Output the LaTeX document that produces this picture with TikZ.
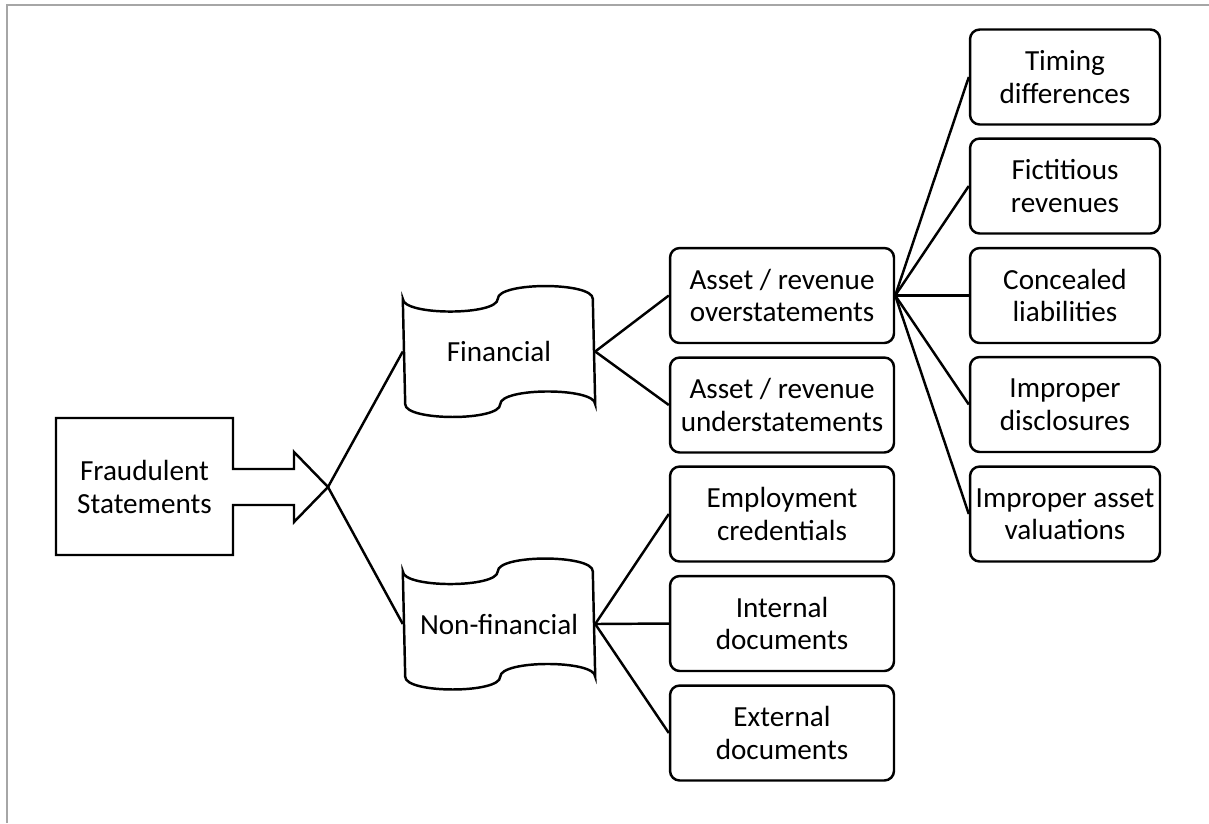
\documentclass[tikz,border=0pt]{standalone}
\usepackage{fontspec}
\setmainfont{Carlito}
\usepackage{xcolor}
\definecolor{framegray}{HTML}{A6A6A6}
\tikzset{
	box/.style={
			draw, rounded corners=5.5pt, inner sep=0pt, align=center,
			minimum width=4.48cm, minimum height=1.9cm
		},
	leaf/.style={box, minimum width=3.8cm},
	tape/.style={inner sep=0pt, align=center, minimum width=3.8cm, minimum height=2.06cm},
	branch/.style={draw}
}
% wavy outline of a punched-tape node (two half ellipses top and bottom)
\newcommand{\tapeoutline}[1]{
	\draw (#1.north west) .. controls +(0,17) and +(0,17) .. ++(95,0)
	.. controls +(0,-17) and +(0,-17) .. ++(95,0)
	-- (#1.south east) .. controls +(0,-17) and +(0,-17) .. ++(-95,0)
	.. controls +(0,17) and +(0,17) .. ++(-95,0) -- cycle;
}

\begin{document}
\begin{tikzpicture}[x=0.02cm, y=-0.02cm, line width=1.4pt,
		every node/.style={font=\fontsize{16.6}{18.5}\selectfont}]
	\useasboundingbox (0,0) rectangle (1209,823);

	% page frame, only top and left are visible
	\draw[framegray, line width=1.1pt] (7,823) -- (7,5) -- (1209,5);

	% Fraudulent statements with its arrow
	\draw (56,418) -- (233,418) -- (233,469) -- (294,469) -- (294,452) -- (328,487)
	-- (294,522) -- (294,505) -- (233,505) -- (233,555) -- (56,555) -- cycle;
	\node (fraud) at (144.5,487) [align=center] {Fraudulent\\Statements};
	\coordinate (tip) at (328,487);

	% Financial / Non-financial
	\node[tape] (fin) at (499,351.5) {Financial};
	\tapeoutline{fin}
	\node[tape] (nonfin) at (499,624) {Non-financial};
	\tapeoutline{nonfin}

	\draw[branch] (tip) -- (fin.west);
	\draw[branch] (tip) -- (nonfin.west);

	% second level
	\node[box] (over) at (782,295.5) {Asset / revenue\\overstatements};
	\node[box] (under) at (782,405) {Asset / revenue\\understatements};
	\node[box] (employ) at (782,514) {Employment\\credentials};
	\node[box] (internal) at (782,623.5) {Internal\\documents};
	\node[box] (external) at (782,733) {External\\documents};

	\draw[branch] (fin.east) -- (over.west);
	\draw[branch] (fin.east) -- (under.west);
	\draw[branch] (nonfin.east) -- (employ.west);
	\draw[branch] (nonfin.east) -- (internal.west);
	\draw[branch] (nonfin.east) -- (external.west);

	% third level
	\node[leaf] (timing) at (1065,77) {Timing\\differences};
	\node[leaf] (fictitious) at (1065,186) {Fictitious\\revenues};
	\node[leaf] (concealed) at (1065,295.5) {Concealed\\liabilities};
	\node[leaf] (disclosure) at (1065,404.5) {Improper\\disclosures};
	\node[leaf] (valuation) at (1065,514) {Improper asset\\valuations};

	\draw[branch] (over.east) -- (timing.west);
	\draw[branch] (over.east) -- (fictitious.west);
	\draw[branch] (over.east) -- (concealed.west);
	\draw[branch] (over.east) -- (disclosure.west);
	\draw[branch] (over.east) -- (valuation.west);
\end{tikzpicture}
\end{document}
